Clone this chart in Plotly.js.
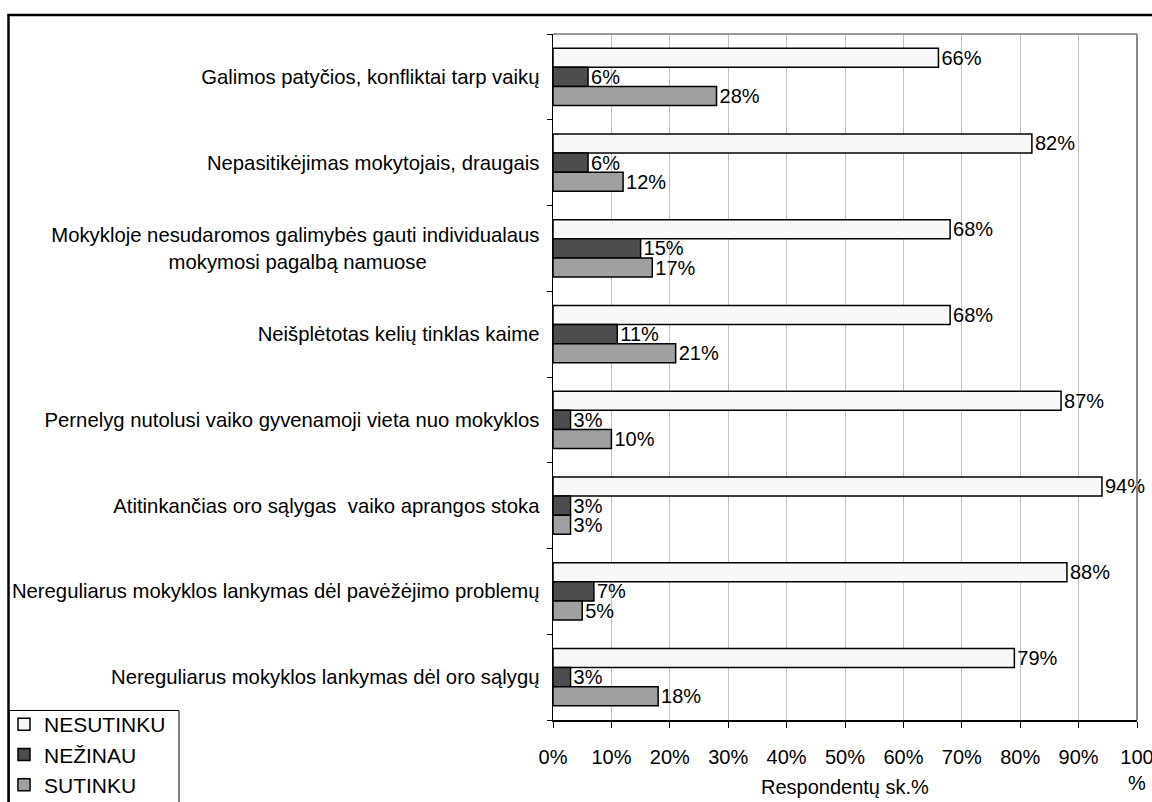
<!DOCTYPE html>
<html>
<head>
<meta charset="utf-8">
<script src="https://cdn.plot.ly/plotly-3.0.1.min.js"></script>
<style>
html,body{margin:0;padding:0;background:#fff;}
#chart{width:1152px;height:802px;}
</style>
</head>
<body>
<div id="chart"></div>
<script>
var categories = [
  "Galimos patyčios, konfliktai tarp vaikų",
  "Nepasitikėjimas mokytojais, draugais",
  "Mokykloje nesudaromos galimybės gauti individualaus mokymosi pagalbą namuose",
  "Neišplėtotas kelių tinklas kaime",
  "Pernelyg nutolusi vaiko gyvenamoji vieta nuo mokyklos",
  "Atitinkančias oro sąlygas  vaiko aprangos stoka",
  "Nereguliarus mokyklos lankymas dėl pavėžėjimo problemų",
  "Nereguliarus mokyklos lankymas dėl oro sąlygų"
];
var categoryLabels = [
  "Galimos patyčios, konfliktai tarp vaikų",
  "Nepasitikėjimas mokytojais, draugais",
  "Mokykloje nesudaromos galimybės gauti individualaus<br>mokymosi pagalbą namuose\u00a0\u00a0\u00a0\u00a0\u00a0\u00a0\u00a0\u00a0\u00a0\u00a0\u00a0\u00a0\u00a0\u00a0\u00a0\u00a0\u00a0\u00a0\u00a0\u00a0",
  "Neišplėtotas kelių tinklas kaime",
  "Pernelyg nutolusi vaiko gyvenamoji vieta nuo mokyklos",
  "Atitinkančias oro sąlygas\u00a0 vaiko aprangos stoka",
  "Nereguliarus mokyklos lankymas dėl pavėžėjimo problemų",
  "Nereguliarus mokyklos lankymas dėl oro sąlygų"
];
var seriesNames = ["NESUTINKU", "NEŽINAU", "SUTINKU"];
var nesutinku = [66, 82, 68, 68, 87, 94, 88, 79];
var nezinau = [6, 6, 15, 11, 3, 3, 7, 3];
var sutinku = [28, 12, 17, 21, 10, 3, 5, 18];
var xTickVals = [0, 10, 20, 30, 40, 50, 60, 70, 80, 90, 100];
var xTickLabels = ["0%", "10%", "20%", "30%", "40%", "50%", "60%", "70%", "80%", "90%", "100<br>%"];
var xTitle = "Respondentų sk.%";

var colors = ["#f8f8f8", "#4d4d4d", "#a0a0a0"];
var seriesValues = [nesutinku, nezinau, sutinku];
var FONT = "Liberation Sans, Arial, sans-serif";
var FS = 20;
var L = 553, R = 1137, T = 34, B = 720;
var PW = R - L, PH = B - T;
function px(x) { return (x - L) / PW; }
function py(y) { return (B - y) / PH; }

var traces = seriesValues.map(function (vals, i) {
  return {
    type: "bar",
    orientation: "h",
    name: seriesNames[i],
    y: categories,
    x: vals,
    text: vals.map(function (v) { return v + "%"; }),
    textposition: "outside",
    textfont: {family: FONT, size: FS, color: "#000"},
    constraintext: "none",
    cliponaxis: false,
    marker: {color: colors[i], line: {color: "#000", width: 1.5}},
    hoverinfo: "x+y"
  };
});

var layout = {
  width: 1152,
  height: 802,
  paper_bgcolor: "#fff",
  plot_bgcolor: "#fff",
  font: {family: FONT, size: FS, color: "#000"},
  margin: {l: L, r: 1152 - R, t: T, b: 802 - B, pad: 0, autoexpand: false},
  barmode: "group",
  bargap: 0.33,
  bargroupgap: 0,
  showlegend: true,
  legend: {
    x: px(4), xanchor: "left",
    y: py(704), yanchor: "top",
    bgcolor: "rgba(0,0,0,0)",
    borderwidth: 0,
    font: {family: FONT, size: 21, color: "#000"},
    traceorder: "normal",
    tracegroupgap: 0
  },
  xaxis: {
    range: [0, 100],
    automargin: false,
    tickvals: xTickVals,
    ticktext: xTickLabels,
    ticklabeloverflow: "allow",
    showgrid: true,
    gridcolor: "#c0c0c0",
    gridwidth: 1,
    zeroline: false,
    showline: true,
    linecolor: "#000",
    linewidth: 1.5,
    ticks: "outside",
    ticklen: 6,
    tickcolor: "#000",
    tickwidth: 1,
    ticklabelstandoff: 12,
    tickfont: {family: FONT, size: FS, color: "#000"},
    fixedrange: true
  },
  yaxis: {
    type: "category",
    automargin: false,
    autorange: "reversed",
    tickmode: "array",
    tickvals: categories,
    ticktext: categoryLabels,
    tickson: "boundaries",
    showgrid: false,
    zeroline: false,
    showline: true,
    linecolor: "#000",
    linewidth: 1.5,
    ticks: "outside",
    ticklen: 5,
    tickcolor: "#000",
    tickwidth: 1,
    ticklabelstandoff: 8,
    tickfont: {family: FONT, size: 20.3, color: "#000"},
    fixedrange: true
  },
  annotations: [
    {text: xTitle, xref: "paper", yref: "paper", x: 0.5, y: py(787),
     xanchor: "center", yanchor: "middle", showarrow: false,
     font: {family: FONT, size: FS, color: "#000"}}
  ],
  shapes: [
    {type: "line", xref: "paper", yref: "paper", x0: 0, x1: 1, y0: 1, y1: 1,
     line: {color: "#999", width: 2}},
    {type: "line", xref: "paper", yref: "paper", x0: 1, x1: 1, y0: 0, y1: 1,
     line: {color: "#888", width: 2}},
    {type: "rect", xref: "paper", yref: "paper",
     x0: px(9), x1: px(179), y0: py(808), y1: py(710.5),
     line: {color: "#000", width: 1}, fillcolor: "rgba(0,0,0,0)", layer: "above"},
    {type: "rect", xref: "paper", yref: "paper",
     x0: px(8.5), x1: px(1160), y0: py(810), y1: py(15),
     line: {color: "#000", width: 2.5}, fillcolor: "rgba(0,0,0,0)", layer: "above"}
  ]
};

Plotly.newPlot("chart", traces, layout, {displayModeBar: false, staticPlot: true});
</script>
</body>
</html>
